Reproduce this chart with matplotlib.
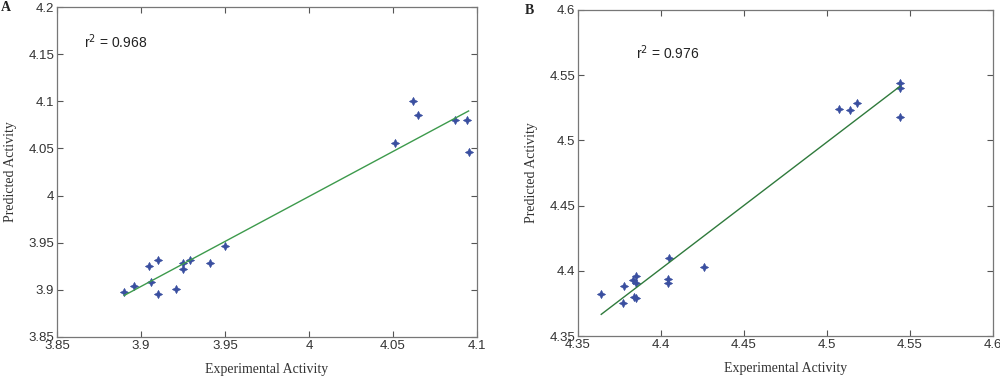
import numpy as np
import matplotlib.pyplot as plt
from matplotlib.ticker import FuncFormatter

# Panel A: experimental vs predicted activity
exp_a = [3.890, 3.896, 3.905, 3.906, 3.910, 3.910, 3.921, 3.925, 3.925,
         3.929, 3.941, 3.950, 4.051, 4.062, 4.065, 4.087, 4.094, 4.095]
pred_a = [3.898, 3.904, 3.925, 3.908, 3.932, 3.896, 3.901, 3.929, 3.922,
          3.932, 3.929, 3.947, 4.056, 4.100, 4.085, 4.080, 4.080, 4.046]
r2_a = 0.968

# Panel B
exp_b = [4.364, 4.377, 4.378, 4.383, 4.385, 4.385, 4.384, 4.385, 4.405,
         4.404, 4.404, 4.426, 4.507, 4.514, 4.518, 4.544, 4.544, 4.544]
pred_b = [4.3825, 4.3756, 4.388, 4.393, 4.396, 4.391, 4.380, 4.379, 4.410,
          4.394, 4.391, 4.403, 4.524, 4.523, 4.529, 4.544, 4.540, 4.518]
r2_b = 0.976

ticks_xa = [3.85, 3.9, 3.95, 4.0, 4.05, 4.1]
ticks_ya = [3.85, 3.9, 3.95, 4.0, 4.05, 4.1, 4.15, 4.2]
ticks_xb = [4.35, 4.4, 4.45, 4.5, 4.55, 4.6]
ticks_yb = [4.35, 4.4, 4.45, 4.5, 4.55, 4.6]

fmt = FuncFormatter(lambda v, p: '%g' % round(v, 3))
sans = 'Liberation Sans'
serif = 'Liberation Serif'

fig = plt.figure(figsize=(10, 3.81), dpi=100)
ax_a = fig.add_axes([0.057, 0.1155, 0.420, 0.866])
ax_b = fig.add_axes([0.578, 0.118, 0.415, 0.856])


def draw(ax, x, y, r2, xt, yt, line_col, txt_pos):
    ax.plot(x, y, linestyle='none', marker=(4, 1, 0), markersize=6,
            color='#3a4fa0', markeredgewidth=0.4)
    k, b = np.polyfit(x, y, 1)
    xs = np.array([min(x), max(x)])
    ax.plot(xs, k * xs + b, color=line_col, linewidth=1.0)
    ax.set_xlim(xt[0], xt[-1])
    ax.set_ylim(yt[0], yt[-1])
    ax.set_xticks(xt)
    ax.set_yticks(yt)
    ax.xaxis.set_major_formatter(fmt)
    ax.yaxis.set_major_formatter(fmt)
    ax.tick_params(direction='in', top=True, right=True, length=4,
                   width=0.8, color='#555555', labelsize=9.5,
                   labelcolor='#333333', pad=2)
    for lab in ax.get_xticklabels() + ax.get_yticklabels():
        lab.set_family(sans)
    for s in ax.spines.values():
        s.set_color('#777777')
        s.set_linewidth(0.9)
    ax.set_xlabel('Experimental Activity', family=serif, fontsize=10,
                  color='#333333', labelpad=8)
    ax.set_ylabel('Predicted Activity', family=serif, fontsize=10,
                  color='#333333', labelpad=8)
    ax.text(txt_pos[0], txt_pos[1], 'r$^2$ = %.3f' % r2, transform=ax.transAxes,
            family=sans, fontsize=10, color='#222222')


draw(ax_a, exp_a, pred_a, r2_a, ticks_xa, ticks_ya, '#3d9a4c', (0.065, 0.875))
draw(ax_b, exp_b, pred_b, r2_b, ticks_xb, ticks_yb, '#2f7a3c', (0.14, 0.85))

fig.text(0.001, 0.997, 'A', family=serif, fontsize=10, fontweight='bold',
         va='top', color='#222222')
fig.text(0.525, 0.99, 'B', family=serif, fontsize=10, fontweight='bold',
         va='top', color='#222222')

fig.savefig('out.png', dpi=100)
